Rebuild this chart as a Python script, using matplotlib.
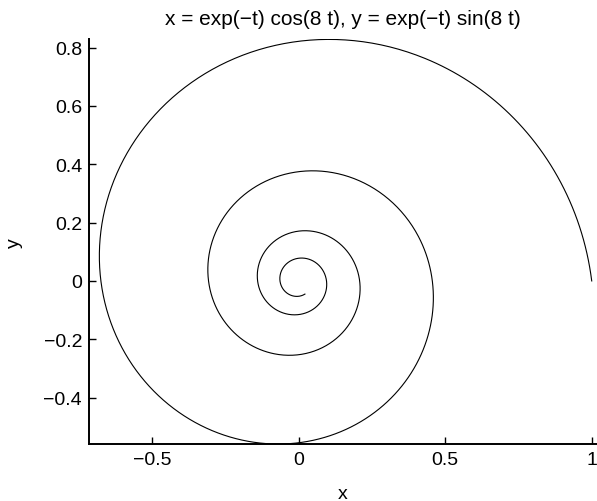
import numpy as np
import matplotlib
matplotlib.use("Agg")
import matplotlib.pyplot as plt

plt.rcParams["font.family"] = ["Liberation Sans", "DejaVu Sans"]

# parametric curve from the title: x = exp(-t) cos(8 t), y = exp(-t) sin(8 t)
t_range = [0.0, 3.0]
freq = 8
t = np.linspace(t_range[0], t_range[1], 2000)
x = np.exp(-t) * np.cos(freq * t)
y = np.exp(-t) * np.sin(freq * t)

x_ticks = [-0.5, 0, 0.5, 1]
x_labels = ["\u22120.5", "0", "0.5", "1"]
y_ticks = [-0.4, -0.2, 0, 0.2, 0.4, 0.6, 0.8]
y_labels = ["\u22120.4", "\u22120.2", "0", "0.2", "0.4", "0.6", "0.8"]

fig = plt.figure(figsize=(5.97, 5.02), dpi=100)
ax = fig.add_axes([0.149, 0.1135, 0.851, 0.806])
ax.plot(x, y, color="black", linewidth=0.8)
# equal aspect: y is tight to the data, x is widened to fill the box
ax.set_ylim(y.min(), y.max())
ax.set_xlim(-0.716, 1.018)
ax.set_xticks(x_ticks)
ax.set_xticklabels(x_labels)
ax.set_yticks(y_ticks)
ax.set_yticklabels(y_labels)
ax.tick_params(direction="in", length=5, width=1, labelsize=14, pad=5)
for side in ["top", "right"]:
    ax.spines[side].set_visible(False)
for side in ["left", "bottom"]:
    ax.spines[side].set_linewidth(1.4)
ax.set_xlabel("x", fontsize=14, labelpad=12)
ax.set_ylabel("y", fontsize=14, labelpad=15)
ax.set_title("x = exp(\u2212t) cos(8 t), y = exp(\u2212t) sin(8 t)", fontsize=15, pad=11)

fig.savefig("out.png", dpi=100)
plt.close(fig)
